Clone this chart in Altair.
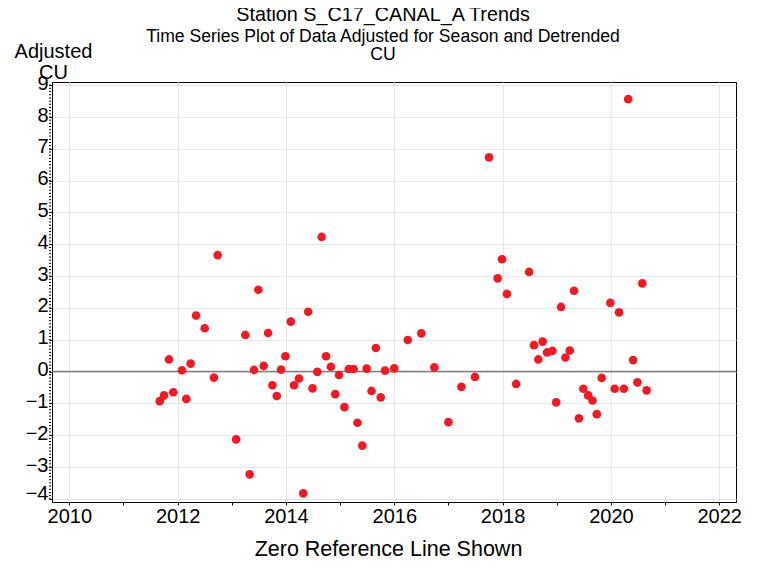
import altair as alt
import pandas as pd

years = [2011.67, 2011.75, 2011.84, 2011.92, 2012.08, 2012.16, 2012.24, 2012.34, 2012.50, 2012.67,
         2012.74, 2013.08, 2013.25, 2013.33, 2013.41, 2013.49, 2013.59, 2013.67, 2013.75, 2013.83,
         2013.91, 2013.99, 2014.09, 2014.15, 2014.24, 2014.32, 2014.41, 2014.49, 2014.58, 2014.66,
         2014.74, 2014.83, 2014.91, 2014.98, 2015.08, 2015.16, 2015.25, 2015.32, 2015.41, 2015.49,
         2015.58, 2015.66, 2015.75, 2015.83, 2016.00, 2016.25, 2016.50, 2016.74, 2017.00, 2017.24,
         2017.49, 2017.75, 2017.91, 2017.99, 2018.08, 2018.25, 2018.49, 2018.58, 2018.66, 2018.74,
         2018.82, 2018.92, 2018.99, 2019.08, 2019.16, 2019.24, 2019.32, 2019.41, 2019.49, 2019.58,
         2019.66, 2019.74, 2019.83, 2019.99, 2020.07, 2020.15, 2020.24, 2020.32, 2020.41, 2020.49,
         2020.58, 2020.66]
values = [-0.93, -0.75, 0.38, -0.65, 0.04, -0.86, 0.25, 1.76, 1.36, -0.19,
          3.66, -2.13, 1.15, -3.23, 0.05, 2.57, 0.18, 1.21, -0.43, -0.77,
          0.06, 0.48, 1.57, -0.43, -0.22, -3.83, 1.88, -0.53, -0.01, 4.23,
          0.48, 0.15, -0.71, -0.11, -1.12, 0.08, 0.08, -1.61, -2.33, 0.09,
          -0.61, 0.74, -0.81, 0.03, 0.10, 0.99, 1.20, 0.13, -1.59, -0.48,
          -0.17, 6.73, 2.93, 3.53, 2.44, -0.39, 3.13, 0.83, 0.38, 0.94,
          0.60, 0.65, -0.97, 2.03, 0.44, 0.66, 2.54, -1.47, -0.54, -0.75,
          -0.91, -1.34, -0.20, 2.16, -0.54, 1.86, -0.54, 8.56, 0.36, -0.34,
          2.77, -0.59]

x_ticks = [2010, 2011, 2012, 2013, 2014, 2015, 2016, 2017, 2018, 2019, 2020, 2021, 2022]
y_ticks = [-4, -3, -2, -1, 0, 1, 2, 3, 4, 5, 6, 7, 8, 9]
minor_y = [round(-4.0 + 0.1 * i, 1) for i in range(131)]
zero_ref = [0]

FONT = "Liberation Sans"

df = pd.DataFrame({"year": years, "value": values})
x_scale = alt.Scale(domain=[2009.68, 2022.31], nice=False, zero=False)
y_scale = alt.Scale(domain=[-4.1, 9.1], nice=False, zero=False)

x_axis = alt.Axis(
    values=x_ticks, format="d", labelOverlap=False,
    labelExpr="datum.value % 2 == 0 ? datum.label : ''",
    gridOpacity={"condition": {"test": "datum.value % 2 == 0", "value": 1}, "value": 0},
    tickSize=3, labelPadding=1, labelFontSize=20, labelFont=FONT, labelColor="black",
    title="Zero Reference Line Shown", titleFontSize=21.5, titleFont=FONT,
    titleFontWeight="normal", titleColor="black",
    titleX=336, titleY=53.5, titleAlign="center", titleBaseline="alphabetic",
)
y_axis = alt.Axis(
    values=y_ticks, format="d", labelOverlap=False, tickCount=14,
    tickSize=3, labelPadding=1, labelFontSize=20, labelFont=FONT, labelColor="black",
    labelOffset={"condition": {"test": "datum.value == -4", "value": -5}, "value": -2},
    title=["Adjusted", "CU"], titleAngle=0, titleAlign="center", titleBaseline="alphabetic",
    titleX=1, titleY=-24.7, titleLineHeight=21, titleFontSize=20, titleFont=FONT,
    titleFontWeight="normal", titleColor="black",
)

zero_line = alt.Chart(pd.DataFrame({"z": zero_ref})).mark_rule(
    color="#808080", strokeWidth=1.5
).encode(y=alt.Y("z:Q", scale=y_scale, axis=y_axis))

minor = alt.Chart(pd.DataFrame({"m": minor_y})).mark_rule(
    color="black", strokeWidth=1, clip=False
).encode(
    y=alt.Y("m:Q", scale=y_scale, axis=y_axis),
    x=alt.value(-3), x2=alt.value(-1),
)

points = alt.Chart(df).mark_circle(size=75, color="#ED1C24", opacity=1).encode(
    x=alt.X("year:Q", scale=x_scale, axis=x_axis),
    y=alt.Y("value:Q", scale=y_scale, axis=y_axis),
)

chart = alt.layer(zero_line, minor, points).properties(
    width=684, height=420,
    autosize=alt.AutoSizeParams(type="none"),
    padding={"left": 44, "top": 74, "right": 15, "bottom": 57},
    title=alt.TitleParams(
        text="Station S_C17_CANAL_A Trends",
        subtitle=["Time Series Plot of Data Adjusted for Season and Detrended", "CU"],
        fontSize=19.8, subtitleFontSize=17.6, font=FONT, subtitleFont=FONT,
        fontWeight="normal", color="black", subtitleColor="black",
        anchor="middle", dx=-11, dy=26, subtitlePadding=3, subtitleLineHeight=18,
    ),
).configure_view(stroke="black", strokeWidth=1).configure_axis(
    domainColor="black", tickColor="black", gridColor="#e6e6e6", gridWidth=1,
    labelOverlap=False,
)

chart.save("out.html", embed_options={"renderer": "svg", "actions": False})
